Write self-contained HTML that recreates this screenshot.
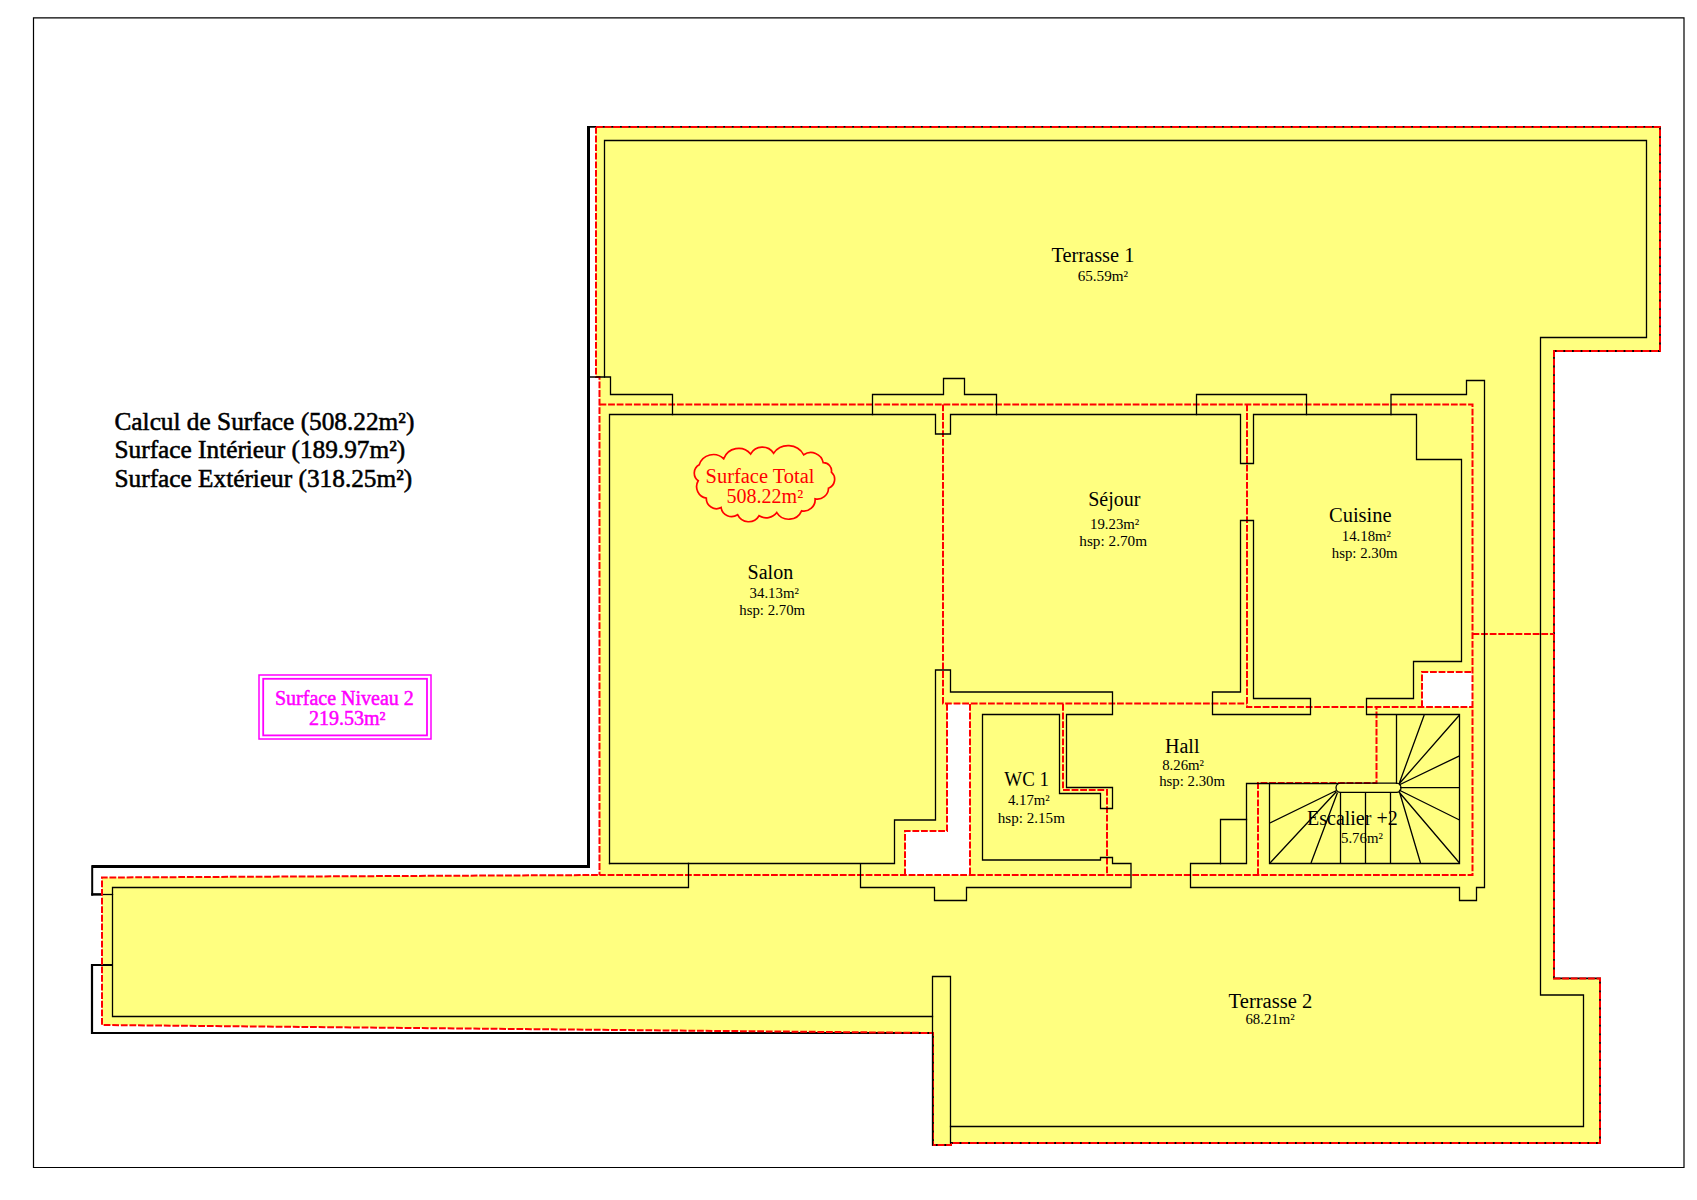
<!DOCTYPE html>
<html><head><meta charset="utf-8"><title>Plan Niveau 2</title>
<style>
html,body{margin:0;padding:0;background:#fff;width:1697px;height:1200px;overflow:hidden}
svg{position:absolute;left:0;top:0;display:block}
text{font-family:"Liberation Serif",serif}
.w{fill:none;stroke:#000;stroke-width:1.3;stroke-linejoin:miter;stroke-linecap:square}
.r{fill:none;stroke:#f00;stroke-width:2;stroke-dasharray:6.8 1.8}
.n{font-size:20px;fill:#000}
.a{font-size:14.8px;fill:#000}
</style></head>
<body>
<svg width="1697" height="1200" viewBox="0 0 1697 1200">
<!-- page frame -->
<path d="M33.5 17.8H1684V1167.5H33.5Z" fill="none" stroke="#000" stroke-width="1.2"/>

<!-- yellow fill -->
<path fill="#FFFF80" fill-rule="evenodd" d="M596 127H1660V351H1554V978.4H1600V1143H951V1145H933V1033L102 1025V877.5L599.5 875V377H596Z
 M947 704H970V875H905V831H947Z
 M1422 672H1472.5V707H1422Z"/>

<!-- outer black boundary lines under red -->
<path d="M588.5 126.8H1660V351H1554V978.4H1600V1143H951V1145H933V1033" fill="none" stroke="#000" stroke-width="1.8"/>
<path d="M588.5 126V866.5H92" fill="none" stroke="#000" stroke-width="3"/>
<path d="M92.2 865.2V895.6" fill="none" stroke="#000" stroke-width="2"/>
<path d="M91.2 894.4H102" fill="none" stroke="#000" stroke-width="2.5"/>
<path d="M102 894.5H112.5" class="w"/>
<path d="M112.5 965H92V1033H933" fill="none" stroke="#000" stroke-width="2.2"/>

<!-- red dashed outer boundary -->
<path class="r" d="M596 127H1660V351H1554V978.4H1600V1143H951V1145H933V1033L102 1025V877.5L599.5 875"/>
<path class="r" d="M596 127V377H599.5V875"/>
<!-- holes -->
<path class="r" d="M947 704V831H905V875"/>
<path class="r" d="M970 704V875"/>
<path class="r" d="M1422 707V672H1472.5"/>
<!-- interior red dashed -->
<path class="r" d="M599.5 404.5H1472.5V875H599.5"/>
<path class="r" d="M943 404.5V703.5H1247"/>
<path class="r" d="M1247 404.5V707H1472.5"/>
<path class="r" d="M1063 704V790H1107V875"/>
<path class="r" d="M1258 875V783H1376.5V707"/>
<path class="r" d="M1472.5 634H1554"/>

<!-- black walls -->
<path class="w" d="M604.5 377V140.5H1646.5V337.5H1540.5V995H1583.5V1126.5H950.5"/>
<path class="w" d="M950.5 1143V976.5H932.5V1145"/>
<path class="w" d="M590 377H610.5V394.5H672.5V414.5"/>
<path class="w" d="M609.5 863.5V414.5H935.5V434H950.5V414.5H1240.5V463.5H1253.5V414.5H1416.5V459.5H1461.5V661.5H1413.5V698.5H1366.5V714.5H1459.5V863.5H1269.5V783.5"/>
<path class="w" d="M872.5 414.5V394.5H943.5V378.5H964.5V394.5H996.5V414.5"/>
<path class="w" d="M1196.5 414.5V394.5H1306.5V414.5"/>
<path class="w" d="M1391 414.5V394.5H1466.5V380.5H1484.5V887.5H1476.5V900.5H1459.5V887.5H1190.5V863.5H1246.5V783.5H1338"/>
<path class="w" d="M1220.5 863.5V819.5H1246.5"/>
<path class="w" d="M860.5 863.5V887.5H934.5V900.5H966.5V887.5H1131V863.5H1112.5V857.5H1100.5V860H982.5V714.5H1059.5V793.5H1100.5V808.5H1112.5V787.5H1066.5V714.5H1112.5V692H950.5V670H935.5V820H894.5V863.5H609.5"/>
<path class="w" d="M688.5 863.5V887.5H112.5V1016.5H932.5"/>
<path class="w" d="M1212.5 692V714.5H1310.5V698.5H1253.5V520.5H1240.5V692Z"/>

<!-- stairs -->
<g class="w" style="stroke-linecap:butt">
<rect x="1336" y="783.2" width="65" height="9.2" rx="4.6" ry="4.6"/>
<path d="M1396.5 714.5V784"/>
<path d="M1399 784L1424.2 715M1399 784L1459.5 715M1399 785L1459.5 755.8M1400 787.7H1459.5M1399 790L1459.5 820M1399 792L1459.5 863M1399.5 792L1420.5 863"/>
<path d="M1340.5 792.4V863.5M1365.5 792.4V863.5M1390.5 792.4V863.5"/>
<path d="M1336.5 790.5L1270 823M1336.5 791.5L1270 863M1337.5 792.5L1311 863"/>
</g>

<!-- cloud -->
<path d="M723.7 458.8 A15.76 15.76 0 0 1 750.6 454.0 A13.44 13.44 0 0 1 773.6 453.2 A17.83 17.83 0 0 1 803.7 454.8 A12.56 12.56 0 0 1 823.2 462.7 A8.06 8.06 0 0 1 831.4 472.2 A9.49 9.49 0 0 1 828.5 488.2 A11.12 11.12 0 0 1 815.1 498.8 A11.31 11.31 0 0 1 801.6 510.8 A14.05 14.05 0 0 1 776.8 512.6 A13.30 13.30 0 0 1 759.1 515.8 A12.16 12.16 0 0 1 737.6 514.7 A10.57 10.57 0 0 1 721.1 507.6 A10.23 10.23 0 0 1 706.3 498.1 A11.62 11.62 0 0 1 698.2 480.8 A9.50 9.50 0 0 1 699.2 464.8 A14.86 14.86 0 0 1 723.7 458.8Z" fill="none" stroke="#f00" stroke-width="1.7"/>
<text x="705.6" y="482.6" font-size="20" fill="#f00" textLength="108.8" lengthAdjust="spacingAndGlyphs">Surface Total</text>
<text x="726.6" y="502.9" font-size="20" fill="#f00">508.22m²</text>

<!-- Niveau box -->
<rect x="259" y="675" width="172" height="64" fill="none" stroke="#f0f" stroke-width="1.5"/>
<rect x="263.2" y="678.8" width="163.8" height="56.6" fill="none" stroke="#f0f" stroke-width="1.8"/>
<text x="275" y="705.3" font-size="20" fill="#f0f" stroke="#f0f" stroke-width="0.5">Surface Niveau 2</text>
<text x="309" y="725.4" font-size="20" fill="#f0f" stroke="#f0f" stroke-width="0.5">219.53m²</text>

<!-- left summary -->
<text x="114.5" y="429.6" font-size="25.3" fill="#000" stroke="#000" stroke-width="0.55">Calcul de Surface (508.22m²)</text>
<text x="114.5" y="458.3" font-size="25.3" fill="#000" stroke="#000" stroke-width="0.55">Surface Intérieur (189.97m²)</text>
<text x="114.5" y="486.9" font-size="25.3" fill="#000" stroke="#000" stroke-width="0.55">Surface Extérieur (318.25m²)</text>

<!-- room labels -->
<text class="n" x="1051.4" y="262" textLength="83" lengthAdjust="spacingAndGlyphs">Terrasse 1</text>
<text class="a" x="1077.7" y="280.6" textLength="50.4" lengthAdjust="spacingAndGlyphs">65.59m²</text>

<text class="n" x="747.6" y="578.9">Salon</text>
<text class="a" x="749.6" y="597.7">34.13m²</text>
<text class="a" x="739.3" y="615.1">hsp: 2.70m</text>

<text class="n" x="1088.2" y="505.6">Séjour</text>
<text class="a" x="1090" y="528.9">19.23m²</text>
<text class="a" x="1079.3" y="546.3" textLength="67.8" lengthAdjust="spacingAndGlyphs">hsp: 2.70m</text>

<text class="n" x="1329" y="522.2" textLength="62.6" lengthAdjust="spacingAndGlyphs">Cuisine</text>
<text class="a" x="1341.8" y="540.6">14.18m²</text>
<text class="a" x="1331.8" y="557.7">hsp: 2.30m</text>

<text class="n" x="1165" y="752.5">Hall</text>
<text class="a" x="1162.2" y="770.2">8.26m²</text>
<text class="a" x="1159.2" y="785.5">hsp: 2.30m</text>

<text class="n" x="1004.3" y="785.7" textLength="44.7" lengthAdjust="spacingAndGlyphs">WC 1</text>
<text class="a" x="1007.9" y="804.5">4.17m²</text>
<text class="a" x="997.8" y="822.6" textLength="67.1" lengthAdjust="spacingAndGlyphs">hsp: 2.15m</text>

<text class="n" x="1307" y="825">Escalier +2</text>
<text class="a" x="1341" y="842.5">5.76m²</text>

<text class="n" x="1228.6" y="1007.5" textLength="83.8" lengthAdjust="spacingAndGlyphs">Terrasse 2</text>
<text class="a" x="1245.4" y="1023.5">68.21m²</text>
</svg>
</body></html>
